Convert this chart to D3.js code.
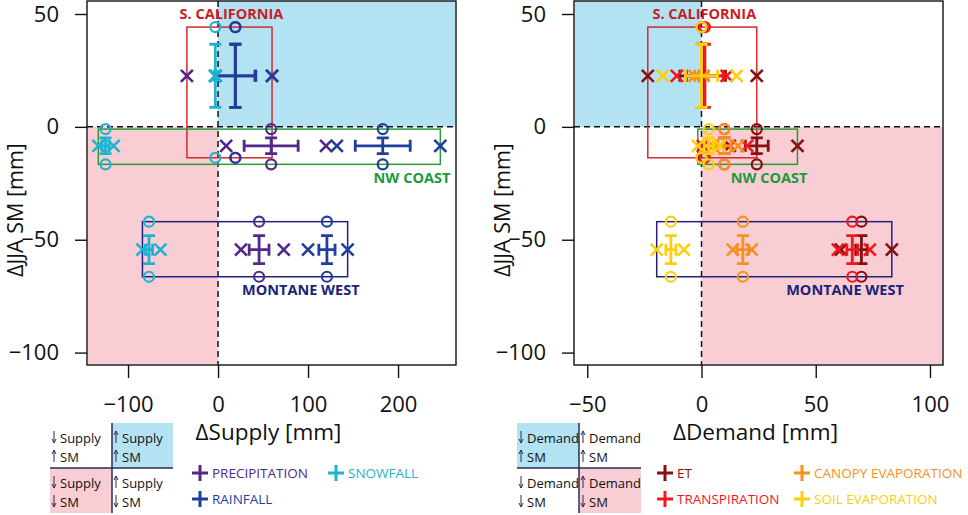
<!DOCTYPE html>
<html><head><meta charset="utf-8">
<script src="https://cdn.jsdelivr.net/npm/d3@7"></script>
<style>body{margin:0;background:#fff}svg{display:block;font-family:'Open Sans',sans-serif}</style>
</head><body><svg id="c" width="968" height="515"></svg>
<script>
// ---------- DATA ----------
const regions = ["S. CALIFORNIA", "NW COAST", "MONTANE WEST"];
// soil moisture (y): mean, error, extremes
const smMean = [22.6, -8.4, -54.4];
const smErr  = [14, 3.5, 6.2];
const smMin  = [-13.7, -16.6, -66.4];
const smMax  = [44.2, -1, -42];
// supply variables (x of left panel)
const precipMean = [19, 59, 45.6],  precipErr = [22, 30, 11],  precipMin = [-34.6, 9, 25.5],  precipMax = [60, 120, 73];
const rainMean   = [19.5, 183, 121], rainErr  = [22.5, 30.5, 9], rainMin  = [-3, 132, 100],  rainMax  = [60, 247, 144];
const snowMean   = [-3, -125, -76.7], snowErr = [1, 4, 4],     snowMin  = [-3.5, -133, -84], snowMax  = [-2.5, -116, -64];
// demand variables (x of right panel)
const etMean = [0.5, 24.2, 70], etErr = [10, 5, 2.5], etMin = [-23.5, 12.4, 61],  etMax = [24.2, 42, 83.3];
const trMean = [1.5, 10, 66],   trErr = [8, 3, 2.4],  trMin = [-10.8, 0.6, 59.7], trMax = [11, 20, 73.7];
const caMean = [0, 10, 18.1],   caErr = [3, 3, 2.5],  caMin = [-3, 5, 13.7],      caMax = [1, 16, 22];
const soMean = [0, 3.2, -13.4], soErr = [7, 2, 2.2],  soMin = [-17, -1.6, -19.6], soMax = [15.4, 8, -7.7];
// ticks
const yTicks = [50, 0, -50, -100];
const xTicksSupply = [-100, 0, 100, 200];
const xTicksDemand = [-50, 0, 50, 100];
const supplyNames = ["PRECIPITATION", "RAINFALL", "SNOWFALL"];
const demandNames = ["ET", "TRANSPIRATION", "CANOPY EVAPORATION", "SOIL EVAPORATION"];

// ---------- STYLE ----------
const supplyColors = ["#52288c", "#1f3f9c", "#1fb3d3"];
const demandColors = ["#851010", "#f2161e", "#f7901e", "#fdcf0a"];
const regionBoxColors = ["#d42a2f", "#2a9a3a", "#22227e"];
const regionTextColors = ["#c81d25", "#1c9a3c", "#1b2378"];
const BLUE = "#b3e2f3", PINK = "#f8cdd3";

const supplyVars = [
  {mean: precipMean, err: precipErr, min: precipMin, max: precipMax},
  {mean: rainMean, err: rainErr, min: rainMin, max: rainMax},
  {mean: snowMean, err: snowErr, min: snowMin, max: snowMax}
].map((v, i) => ({...v, name: supplyNames[i], color: supplyColors[i]}));
const demandVars = [
  {mean: etMean, err: etErr, min: etMin, max: etMax},
  {mean: trMean, err: trErr, min: trMin, max: trMax},
  {mean: caMean, err: caErr, min: caMin, max: caMax},
  {mean: soMean, err: soErr, min: soMin, max: soMax}
].map((v, i) => ({...v, name: demandNames[i], color: demandColors[i]}));

const svg = d3.select("#c");
const pTop = 1, pBottom = 365;
const y = d3.scaleLinear().domain([55.76, -105.5]).range([pTop, pBottom]);

function panel(opts) {
  const {x0, x1, xDomain, xTicks, vars, blueLeft, xlabel} = opts;
  const x = d3.scaleLinear().domain(xDomain).range([x0, x1]);
  const g = svg.append("g");
  // shading
  if (blueLeft) {
    g.append("rect").attr("x", x0 + 1).attr("y", pTop).attr("width", x(0) - x0 - 1).attr("height", y(0) - pTop).attr("fill", BLUE);
    g.append("rect").attr("x", x(0)).attr("y", y(0)).attr("width", x1 - x(0)).attr("height", pBottom - y(0) - 1).attr("fill", PINK);
  } else {
    g.append("rect").attr("x", x(0)).attr("y", pTop).attr("width", x1 - x(0) - 1).attr("height", y(0) - pTop).attr("fill", BLUE);
    g.append("rect").attr("x", x0 + 1).attr("y", y(0)).attr("width", x(0) - x0 - 1).attr("height", pBottom - y(0) - 1).attr("fill", PINK);
  }
  // frame
  g.append("rect").attr("x", x0).attr("y", pTop).attr("width", x1 - x0).attr("height", pBottom - pTop)
    .attr("fill", "none").attr("stroke", "#111").attr("stroke-width", 1.4);
  // zero lines
  g.append("line").attr("x1", x(0)).attr("x2", x(0)).attr("y1", pTop).attr("y2", pBottom)
    .attr("stroke", "#111").attr("stroke-width", 1.5).attr("stroke-dasharray", "6,4");
  g.append("line").attr("x1", x0).attr("x2", x1).attr("y1", y(0)).attr("y2", y(0))
    .attr("stroke", "#111").attr("stroke-width", 1.5).attr("stroke-dasharray", "6,4");
  // axes
  const ya = g.append("g").attr("transform", `translate(${x0},0)`)
    .call(d3.axisLeft(y).tickValues(yTicks).tickSize(12).tickPadding(16).tickFormat(d3.format("d")));
  const xa = g.append("g").attr("transform", `translate(0,${pBottom})`)
    .call(d3.axisBottom(x).tickValues(xTicks).tickSize(13).tickPadding(18).tickFormat(d3.format("d")));
  [ya, xa].forEach(a => {
    a.select(".domain").remove();
    a.selectAll(".tick line").attr("stroke", "#111").attr("stroke-width", 1.4);
    a.selectAll(".tick text").attr("font-size", 22).attr("fill", "#111").attr("font-family", "'Open Sans',sans-serif");
  });
  // labels
  g.append("text").attr("x", (x0 + x1) / 2 - 3).attr("y", 440).attr("text-anchor", "middle")
    .attr("font-size", 22.5).attr("fill", "#111").text(xlabel);
  g.append("text").attr("transform", `translate(${x0 - 64},210) rotate(-90)`).attr("text-anchor", "middle")
    .attr("font-size", 21.5).attr("fill", "#111").text("\u0394JJA SM [mm]");

  // region boxes
  const boxes = regions.map((r, i) => {
    const xmn = d3.min(vars, v => v.min[i]), xmx = d3.max(vars, v => v.max[i]);
    return {i, xa: x(xmn), xb: x(xmx), ya: y(smMax[i]), yb: y(smMin[i])};
  });
  g.selectAll(".box").data(boxes).join("rect").attr("class", "box")
    .attr("x", d => d.xa).attr("y", d => d.ya).attr("width", d => d.xb - d.xa).attr("height", d => d.yb - d.ya)
    .attr("fill", "none").attr("stroke", d => regionBoxColors[d.i]).attr("stroke-width", 1.5);

  // markers
  const cap = 6, xs = 6;
  vars.forEach(v => {
    const m = g.append("g").attr("stroke", v.color).attr("fill", "none");
    regions.forEach((r, i) => {
      const cx = x(v.mean[i]), cy = y(smMean[i]);
      const xl = x(v.mean[i] - v.err[i]), xr = x(v.mean[i] + v.err[i]);
      const yt = y(smMean[i] + smErr[i]), yb = y(smMean[i] - smErr[i]);
      const p = `M${xl},${cy}H${xr}M${xl},${cy - cap}V${cy + cap}M${xr},${cy - cap}V${cy + cap}` +
                `M${cx},${yt}V${yb}M${cx - cap},${yt}H${cx + cap}M${cx - cap},${yb}H${cx + cap}`;
      m.append("path").attr("d", p).attr("stroke-width", 2.8);
      [v.min[i], v.max[i]].forEach(val => {
        const px = x(val);
        m.append("path").attr("d", `M${px - xs},${cy - xs}L${px + xs},${cy + xs}M${px - xs},${cy + xs}L${px + xs},${cy - xs}`)
          .attr("stroke-width", 2.6);
      });
      [smMin[i], smMax[i]].forEach(val => {
        m.append("circle").attr("cx", cx).attr("cy", y(val)).attr("r", 5).attr("stroke-width", 2.2);
      });
    });
  });

  // region labels
  boxes.forEach(b => {
    let tx, ty, anchor;
    if (b.i === 0) { tx = (b.xa + b.xb) / 2 + 2; ty = b.ya - 8; anchor = "middle"; }
    else if (b.i === 1) { tx = b.xb + 10; ty = b.yb + 19; anchor = "end"; }
    else { tx = b.xb + 12; ty = b.yb + 18; anchor = "end"; }
    g.append("text").attr("x", tx).attr("y", ty).attr("text-anchor", anchor)
      .attr("font-size", 14.5).attr("font-weight", 700).attr("fill", regionTextColors[b.i]).text(regions[b.i]);
  });
  return x;
}

panel({x0: 87, x1: 456, xDomain: [-145.6, 264.4], xTicks: xTicksSupply, vars: supplyVars, blueLeft: false, xlabel: "\u0394Supply [mm]"});
panel({x0: 574, x1: 943, xDomain: [-55.8, 105.7], xTicks: xTicksDemand, vars: demandVars, blueLeft: true, xlabel: "\u0394Demand [mm]"});

// ---------- quadrant legends ----------
function arrow(g, ax, base, up) {
  const t = base - 12, b = base;
  const tip = up ? t : b;
  const d = up ? 1 : -1;
  g.append("path").attr("d", `M${ax},${t}V${b}M${ax - 2},${tip + 4 * d}L${ax},${tip}L${ax + 2},${tip + 4 * d}`)
    .attr("stroke", "#2b2b55").attr("stroke-width", 1).attr("fill", "none");
}
function quad(x0, xm, x1, word, blueCell, pinkCell) {
  const y0 = 423, ym = 468, y1 = 513;
  const g = svg.append("g");
  const cells = [[x0, y0, xm, ym], [xm, y0, x1, ym], [x0, ym, xm, y1], [xm, ym, x1, y1]];
  g.append("rect").attr("x", cells[blueCell][0]).attr("y", cells[blueCell][1])
    .attr("width", cells[blueCell][2] - cells[blueCell][0]).attr("height", cells[blueCell][3] - cells[blueCell][1]).attr("fill", BLUE);
  g.append("rect").attr("x", cells[pinkCell][0]).attr("y", cells[pinkCell][1])
    .attr("width", cells[pinkCell][2] - cells[pinkCell][0]).attr("height", cells[pinkCell][3] - cells[pinkCell][1]).attr("fill", PINK);
  g.append("line").attr("x1", xm).attr("x2", xm).attr("y1", y0).attr("y2", y1).attr("stroke", "#2b2b55").attr("stroke-width", 1.5);
  g.append("line").attr("x1", x0).attr("x2", x1).attr("y1", ym).attr("y2", ym).attr("stroke", "#2b2b55").attr("stroke-width", 1.5);
  const dirs = [[false, true], [true, true], [false, false], [true, false]];
  cells.forEach((c, k) => {
    const b1 = c[1] + 20, b2 = c[1] + 39;
    arrow(g, c[0] + 4, b1, dirs[k][0]);
    arrow(g, c[0] + 4, b2, dirs[k][1]);
    g.append("text").attr("x", c[0] + 10).attr("y", b1).attr("font-size", 13).attr("fill", "#111").text(word);
    g.append("text").attr("x", c[0] + 10).attr("y", b2).attr("font-size", 13).attr("fill", "#111").text("SM");
  });
}
quad(50, 112, 173, "Supply", 1, 2);
quad(517, 579, 641, "Demand", 0, 3);

// ---------- variable legends ----------
function legendItem(cx, cy, color, label) {
  svg.append("path").attr("d", `M${cx - 8},${cy}H${cx + 8}M${cx},${cy - 8}V${cy + 8}`)
    .attr("stroke", color).attr("stroke-width", 3).attr("fill", "none");
  svg.append("text").attr("x", cx + 12).attr("y", cy).attr("dominant-baseline", "central")
    .attr("font-size", 13.5).attr("fill", color).text(label);
}
const supplyLegendPos = [[200, 473], [200, 499], [336, 473]];
supplyVars.forEach((v, i) => legendItem(supplyLegendPos[i][0], supplyLegendPos[i][1], v.color, v.name));
const demandLegendPos = [[665, 473], [665, 499], [802, 473], [802, 499]];
demandVars.forEach((v, i) => legendItem(demandLegendPos[i][0], demandLegendPos[i][1], v.color, v.name));
</script></body></html>
